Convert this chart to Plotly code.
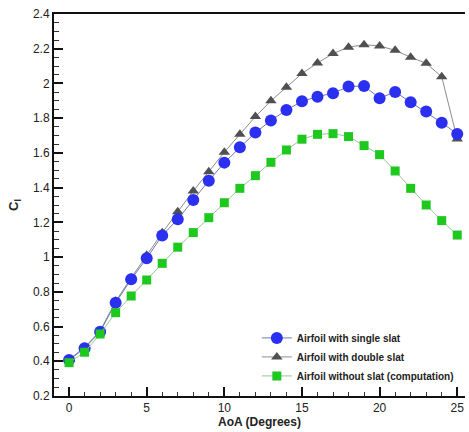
import plotly.graph_objects as go

aoa = list(range(0, 26))

single_slat = [0.407, 0.475, 0.570, 0.737, 0.872, 0.993, 1.125, 1.218, 1.329, 1.440,
               1.544, 1.633, 1.717, 1.786, 1.847, 1.897, 1.924, 1.944, 1.982, 1.986,
               1.915, 1.951, 1.892, 1.838, 1.774, 1.709]

double_slat = [0.410, 0.480, 0.575, 0.745, 0.880, 1.010, 1.140, 1.261, 1.381, 1.492,
               1.604, 1.707, 1.809, 1.900, 1.978, 2.057, 2.118, 2.172, 2.209, 2.223,
               2.216, 2.191, 2.151, 2.116, 2.039, 1.680]

no_slat = [0.392, 0.452, 0.557, 0.680, 0.776, 0.868, 0.964, 1.057, 1.141, 1.227,
           1.313, 1.396, 1.469, 1.546, 1.617, 1.679, 1.707, 1.711, 1.694, 1.642,
           1.590, 1.496, 1.396, 1.300, 1.210, 1.127]

series_names = ["Airfoil with single slat", "Airfoil with double slat",
                "Airfoil without slat (computation)"]

fig = go.Figure()

fig.add_trace(go.Scatter(
    x=aoa, y=double_slat, name=series_names[1], mode="lines+markers",
    line=dict(color="#8c8c8c", width=1),
    marker=dict(symbol="triangle-up", size=10, color="#505050"),
    legendrank=2,
))
fig.add_trace(go.Scatter(
    x=aoa, y=single_slat, name=series_names[0], mode="lines+markers",
    line=dict(color="#7078b8", width=1),
    marker=dict(symbol="circle", size=12, color="#2b2ff0"),
    legendrank=1,
))
fig.add_trace(go.Scatter(
    x=aoa, y=no_slat, name=series_names[2], mode="lines+markers",
    line=dict(color="#94c894", width=1),
    marker=dict(symbol="square", size=9, color="#1ec81e"),
    legendrank=3,
))

fig.update_layout(
    width=469, height=432,
    margin=dict(l=54, r=4, t=14, b=36),
    plot_bgcolor="white", paper_bgcolor="white",
    font=dict(family="Liberation Sans, Arial, sans-serif", size=12, color="#222222"),
    showlegend=True,
    legend=dict(
        x=0.985, y=0.19, xanchor="right", yanchor="top",
        font=dict(size=10, color="#222222", family="Liberation Sans, Arial, sans-serif",
                  weight="bold"),
        bgcolor="rgba(255,255,255,0)",
        tracegroupgap=0,
    ),
)

fig.update_xaxes(
    range=[-0.97, 25.5], dtick=5, tick0=0,
    showgrid=False, zeroline=False,
    showline=True, linecolor="#111111", linewidth=2, mirror=True,
    ticks="inside", ticklen=9, tickwidth=2, tickcolor="#111111",
    minor=dict(dtick=1, ticks="inside", ticklen=4, tickwidth=1, tickcolor="#333333"),
    title=dict(text="<b>AoA (Degrees)</b>", font=dict(size=12), standoff=2),
)
fig.update_yaxes(
    range=[0.2, 2.4], dtick=0.2, tick0=0.2,
    showgrid=False, zeroline=False,
    showline=True, linecolor="#111111", linewidth=2, mirror=False,
    ticks="inside", ticklen=9, tickwidth=2, tickcolor="#111111",
    minor=dict(dtick=0.05, ticks="inside", ticklen=5, tickwidth=1, tickcolor="#333333"),
    title=dict(text="<b>C<sub>l</sub></b>", font=dict(size=13), standoff=11),
)

fig.write_html("out.html", config={"displayModeBar": False},
               post_script="document.body.style.margin='0';document.body.style.overflow='hidden';")
